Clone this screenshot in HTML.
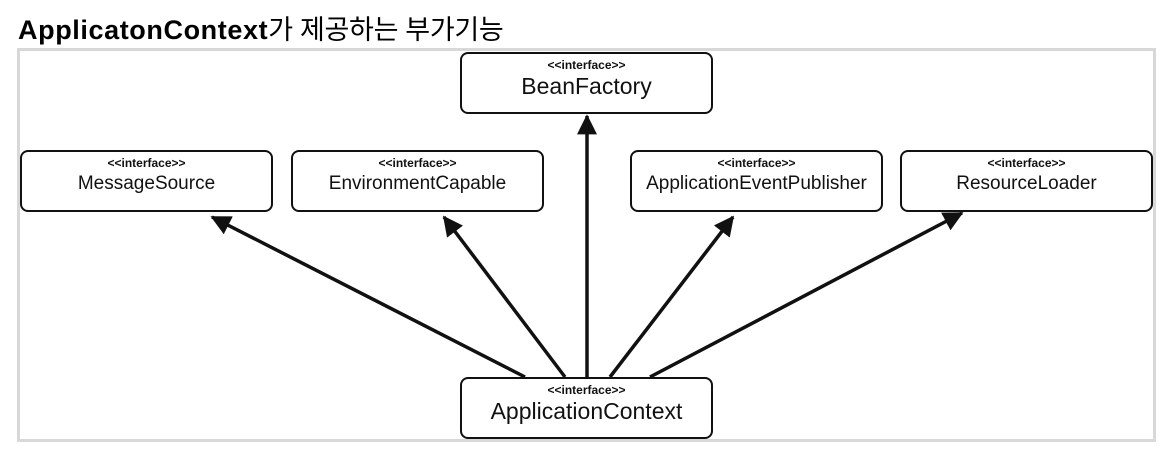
<!DOCTYPE html>
<html><head><meta charset="utf-8"><style>
body{margin:0;background:#fff;width:1163px;height:450px;overflow:hidden;position:relative;font-family:"Liberation Sans","Noto Sans CJK KR",sans-serif}
.t{position:absolute;left:18px;top:8px;font-size:27px;font-weight:bold;color:#000;letter-spacing:0.6px}
.t span{font-weight:normal;letter-spacing:-0.3px}
.frame{position:absolute;left:17px;top:48px;width:1133px;height:388px;border:3px solid #d8d8d8}
.b{position:absolute;width:249px;height:58px;border:2px solid #111;border-radius:8px;background:#fff;text-align:center;box-sizing:content-box;color:#111}
.b .s{font-size:12px;font-weight:bold;margin-top:5px;line-height:13px}
.b .n{font-size:19px;line-height:24px;margin-top:2px}
.big .n{font-size:23px;line-height:26px;margin-top:1px}
svg{position:absolute;left:0;top:0}
</style></head><body>
<div class="t">ApplicatonContext<span>가 제공하는 부가기능</span></div>
<div class="frame"></div>
<svg width="1163" height="450">
<defs>
<marker id="m" viewBox="0 0 12 12" markerWidth="20" markerHeight="20" refX="11" refY="6" orient="auto" markerUnits="userSpaceOnUse"><path d="M0,0 L12,6 L0,12 z" fill="#111"/></marker></defs>
<g stroke="#111" stroke-width="3.5" fill="none" marker-end="url(#m)">
<line x1="525" y1="377" x2="212" y2="217"/>
<line x1="565" y1="377" x2="444" y2="217"/>
<line x1="587" y1="377" x2="587" y2="116"/>
<line x1="610" y1="377" x2="733" y2="217"/>
<line x1="650" y1="377" x2="962" y2="213"/>
</g>
</svg>
<div class="b big" style="left:460px;top:52px"><div class="s">&lt;&lt;interface&gt;&gt;</div><div class="n">BeanFactory</div></div>
<div class="b" style="left:20px;top:150px"><div class="s">&lt;&lt;interface&gt;&gt;</div><div class="n">MessageSource</div></div>
<div class="b" style="left:291px;top:150px"><div class="s">&lt;&lt;interface&gt;&gt;</div><div class="n">EnvironmentCapable</div></div>
<div class="b" style="left:630px;top:150px"><div class="s">&lt;&lt;interface&gt;&gt;</div><div class="n">ApplicationEventPublisher</div></div>
<div class="b" style="left:900px;top:150px"><div class="s">&lt;&lt;interface&gt;&gt;</div><div class="n">ResourceLoader</div></div>
<div class="b big" style="left:460px;top:377px"><div class="s">&lt;&lt;interface&gt;&gt;</div><div class="n">ApplicationContext</div></div>
</body></html>
